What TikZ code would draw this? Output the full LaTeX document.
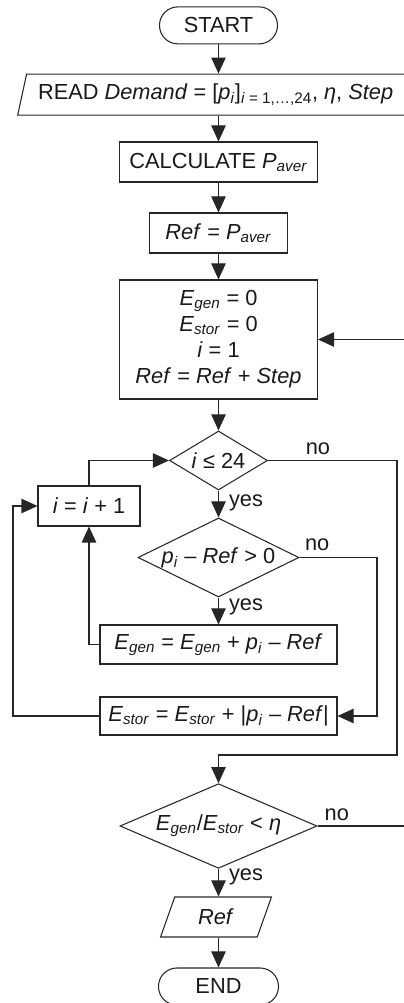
\documentclass[tikz,border=0pt]{standalone}
\usepackage{fontspec}
\setmainfont{Liberation Sans}
\usetikzlibrary{shapes.geometric, arrows.meta}

\newcommand{\Egen}{\textit{E}\textsubscript{\textit{gen}}}
\newcommand{\Estor}{\textit{E}\textsubscript{\textit{stor}}}
\newcommand{\Paver}{\textit{P}\textsubscript{\textit{aver}}}
\newcommand{\pind}{\textit{p}\textsubscript{\textit{i}}}

\begin{document}
\begin{tikzpicture}[font=\fontsize{15.5}{18.5}\selectfont, line width=0.75pt, draw=black!85, text=black!90,
    term/.style={draw, rectangle, rounded corners=0.46cm, minimum width=2.95cm, minimum height=0.925cm},
    proc/.style={draw, rectangle, inner sep=0pt},
    io/.style={draw, trapezium, trapezium left angle=69, trapezium right angle=111, trapezium stretches, inner sep=0pt},
    dec/.style={draw, diamond, inner sep=0pt, aspect=2},
    arr/.style={-{Triangle[length=0.4cm, width=0.36cm]}},
    lbl/.style={inner sep=1pt}]
\useasboundingbox (0,0) rectangle (10.1,25.075);

\node[term] (start) at (5.4625, 24.44) {START};
\node[io, minimum width=9.925cm, minimum height=1.025cm] (read) at (5.39, 22.71) {READ \textit{Demand} = [\pind]\textsubscript{\textit{i} = 1,…,24}, \textit{η}, \textit{Step}};
\node[proc, minimum width=4.95cm, minimum height=1.0cm] (calc) at (5.4625, 21.025) {CALCULATE \Paver};
\node[proc, minimum width=3.45cm, minimum height=1.0cm] (refav) at (5.4625, 19.25) {\textit{Ref} = \Paver};
\node[proc, minimum width=4.95cm, minimum height=2.975cm, align=center] (init) at (5.4625, 16.5875) {\Egen{} = 0\\ \Estor{} = 0\\ \textit{i} = 1\\ \textit{Ref} = \textit{Ref} + \textit{Step}};
\node[dec, minimum width=2.45cm, minimum height=1.475cm] (chk) at (5.4625, 13.5625) {\textit{i} ≤ 24};
\node[proc, minimum width=2.55cm, minimum height=1.0cm] (inc) at (2.225, 12.425) {\textit{i} = \textit{i} + 1};
\node[dec, minimum width=4.025cm, minimum height=1.975cm] (test) at (5.4625, 11.1375) {\pind{} – \textit{Ref} > 0};
\node[proc, minimum width=5.925cm, minimum height=0.975cm] (egen) at (5.4625, 8.9625) {\Egen{} = \Egen{} + \pind{} – \textit{Ref}};
\node[proc, minimum width=5.925cm, minimum height=0.95cm] (estor) at (5.4625, 7.175) {\Estor{} = \Estor{} + |\pind{} – \textit{Ref}|};
\node[dec, minimum width=4.925cm, minimum height=1.95cm] (fin) at (5.4625, 4.425) {\Egen/\Estor{} < \textit{η}};
\node[io, minimum width=2.775cm, minimum height=1.0cm] (out) at (5.4, 2.15) {\textit{Ref}};
\node[term, minimum width=3.0cm] (end) at (5.4625, 0.4125) {END};

\coordinate (merge) at (5.4625, 6.2);
\coordinate (lbus) at (0.325, 0);
\coordinate (rbus) at (9.925, 0);
\coordinate (tbus) at (9.425, 0);
\coordinate (fbus) at (10.3, 0);

% main line
\draw[arr] (start) -- (start |- read.north);
\draw[arr] (start |- read.south) -- (calc);
\draw[arr] (calc) -- (refav);
\draw[arr] (refav) -- (init);
\draw[arr] (init) -- (chk);
\draw[arr] (chk) -- (test);
\draw[arr] (test) -- (egen);
\draw[arr] (fin) -- (start |- out.north);
\draw[arr] (start |- out.south) -- (end);

% inner loop
\draw[arr] (egen.west) -| (inc);
\draw[arr] (inc) |- (chk.west);
\draw[arr] (estor.west) -| (lbus |- inc) -- (inc.west);
\draw[arr] (test.east) -| (tbus |- estor) -- (estor.east);

% outer loop
\draw[arr] (chk.east) -| (rbus |- merge) -- (merge) -- (fin);
\draw[arr] (fin.east) -| (fbus |- init) -- (init.east);

\node[lbl] (nochk) at (7.95, 13.85) {no};
\node[lbl] (yeschk) at (6.15, 12.5) {yes};
\node[lbl] (notest) at (7.93, 11.45) {no};
\node[lbl] (yestest) at (6.15, 9.9) {yes};
\node[lbl] (nofin) at (8.42, 4.7) {no};
\node[lbl] (yesfin) at (6.15, 3.15) {yes};

\end{tikzpicture}
\end{document}
